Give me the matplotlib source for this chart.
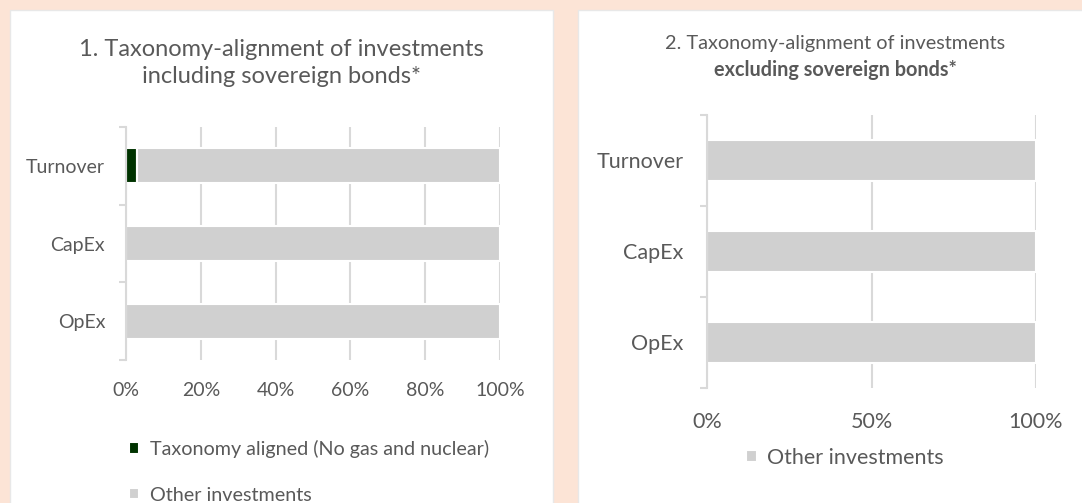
import matplotlib.pyplot as plt
from matplotlib.patches import Rectangle

# data
categories = ["Turnover", "CapEx", "OpEx"]
aligned_incl = [3, 0, 0]
other_incl = [97, 100, 100]
other_excl = [100, 100, 100]
ticks_left = [0, 20, 40, 60, 80, 100]
ticks_right = [0, 50, 100]

green = "#003300"
grey = "#D0D0D0"
txt = "#595959"
line_col = "#D9D9D9"

plt.rcParams["font.family"] = ["Lato", "DejaVu Sans"]

fig = plt.figure(figsize=(10.82, 5.03), dpi=100)
fig.patch.set_facecolor("#FCE4D6")

W, H = 1082, 503


def box(x0, y0, x1, y1):
    fig.patches.append(Rectangle((x0 / W, 1 - y1 / H), (x1 - x0) / W, (y1 - y0) / H,
                                 transform=fig.transFigure, facecolor="white",
                                 edgecolor="#E8E8E8", lw=1, zorder=-1))


box(10, 10, 553, 505)
box(578, 10, 1084, 505)


def style(ax, ticks, fs, xpad, ypad):
    ax.set_ylim(2.5, -0.5)
    ax.set_xlim(0, 100)
    ax.set_xticks(ticks)
    ax.set_xticklabels([f"{t}%" for t in ticks])
    ax.set_yticks(range(len(categories)))
    ax.set_yticklabels(categories)
    ax.set_yticks([-0.5, 0.5, 1.5, 2.5], minor=True)
    ax.tick_params(axis="y", which="major", length=0, pad=ypad, labelsize=fs, labelcolor=txt)
    ax.tick_params(axis="y", which="minor", length=5, width=1.5, color=line_col)
    ax.tick_params(axis="x", length=0, pad=xpad, labelsize=fs, labelcolor=txt)
    for s in ["top", "right", "bottom"]:
        ax.spines[s].set_visible(False)
    ax.spines["left"].set_color(line_col)
    ax.spines["left"].set_linewidth(1.5)
    ax.grid(axis="x", color=line_col, lw=1.5)
    ax.set_axisbelow(True)
    ax.set_facecolor("none")


# left chart
ax1 = fig.add_axes([126 / W, 1 - 360 / H, 374 / W, 233 / H])
b1 = ax1.barh(categories, aligned_incl, height=0.45, color=green, edgecolor="white", lw=1.5,
              label="Taxonomy aligned (No gas and nuclear)")
b2 = ax1.barh(categories, other_incl, left=aligned_incl, height=0.45, color=grey,
              edgecolor="white", lw=1.5, label="Other investments")
style(ax1, ticks_left, 14, 16, 15)

fig.text(281 / W, 1 - 63 / H, "1. Taxonomy-alignment of investments\nincluding sovereign bonds*",
         ha="center", va="center", fontsize=17, color=txt, linespacing=1.35)

ax1.legend(handles=[b1, b2], loc="upper left", bbox_to_anchor=(129 / W, 1 - 440 / H),
           bbox_transform=fig.transFigure, frameon=False, fontsize=14.2, labelcolor=txt,
           handlelength=0.5, handleheight=0.5, handletextpad=0.55, labelspacing=1.45,
           borderpad=0, borderaxespad=0)

# right chart
ax2 = fig.add_axes([707 / W, 1 - 388 / H, 329 / W, 273 / H])
b3 = ax2.barh(categories, other_excl, height=0.46, color=grey, edgecolor="white", lw=1.5,
              label="Other investments")
style(ax2, ticks_right, 15.5, 17, 17)

fig.text(835 / W, 1 - 43 / H, "2. Taxonomy-alignment of investments",
         ha="center", va="center", fontsize=14.3, color=txt)
fig.text(835 / W, 1 - 70 / H, "excluding sovereign bonds*",
         ha="center", va="center", fontsize=14.3, color=txt, fontweight="bold")

ax2.legend(handles=[b3], loc="center", bbox_to_anchor=(845 / W, 1 - 458 / H),
           bbox_transform=fig.transFigure, frameon=False, fontsize=15.5, labelcolor=txt,
           handlelength=0.5, handleheight=0.5, handletextpad=0.5,
           borderpad=0, borderaxespad=0)

fig.savefig("out.png", dpi=100, facecolor=fig.get_facecolor())
